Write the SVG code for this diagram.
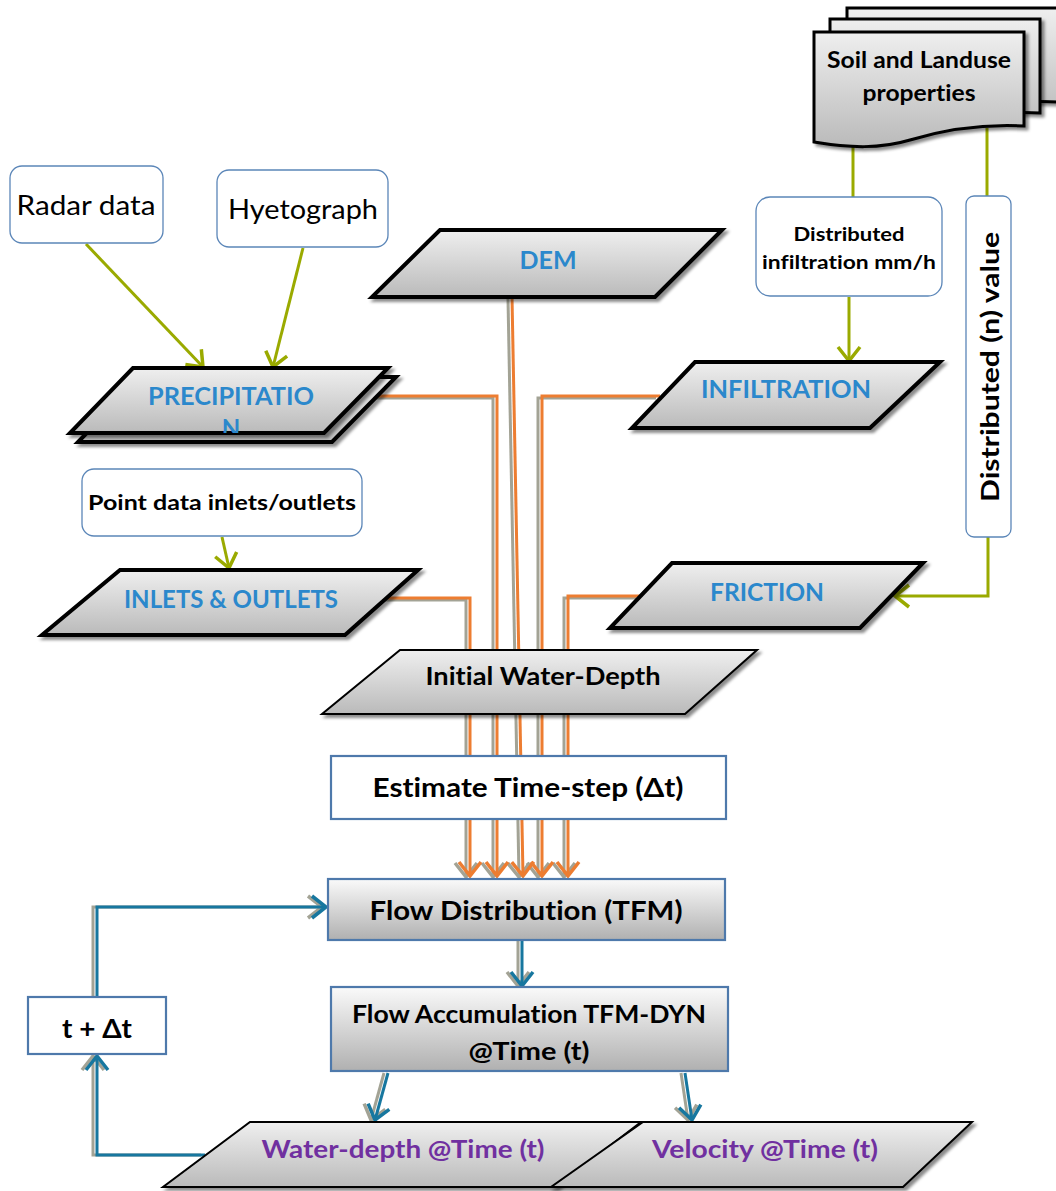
<svg xmlns="http://www.w3.org/2000/svg" width="1056" height="1191" viewBox="0 0 1056 1191">
<defs>
<linearGradient id="gp" x1="0" y1="0" x2="0" y2="1"><stop offset="0" stop-color="#efefef"/><stop offset="1" stop-color="#bababa"/></linearGradient>
<linearGradient id="gb" x1="0" y1="0" x2="0" y2="1"><stop offset="0" stop-color="#fafafa"/><stop offset="1" stop-color="#b0b0b0"/></linearGradient>
<filter id="sh" x="-10%" y="-10%" width="130%" height="150%"><feDropShadow dx="3" dy="3" stdDeviation="1.5" flood-color="#000" flood-opacity="0.45"/></filter>
<marker id="ao" markerUnits="userSpaceOnUse" viewBox="0 0 20 26" refX="17" refY="13" markerWidth="20" markerHeight="26" orient="auto" overflow="visible"><path d="M3,2 L17,13 L3,24" fill="none" stroke="#ED7D31" stroke-width="3.5"/></marker>
<marker id="ag" markerUnits="userSpaceOnUse" viewBox="0 0 20 26" refX="17" refY="13" markerWidth="20" markerHeight="26" orient="auto" overflow="visible"><path d="M3,2 L17,13 L3,24" fill="none" stroke="#a3a395" stroke-width="3.5"/></marker>
<marker id="ab" markerUnits="userSpaceOnUse" viewBox="0 0 20 26" refX="17" refY="13" markerWidth="20" markerHeight="26" orient="auto" overflow="visible"><path d="M3,2 L17,13 L3,24" fill="none" stroke="#17779f" stroke-width="3.5"/></marker>
<marker id="an" markerUnits="userSpaceOnUse" viewBox="0 0 20 26" refX="17" refY="13" markerWidth="20" markerHeight="26" orient="auto" overflow="visible"><path d="M3,2 L17,13 L3,24" fill="none" stroke="#9aaa00" stroke-width="3.5"/></marker>
<clipPath id="cp"><polygon points="133,368 388,368 324,433 70,433"/></clipPath>
</defs>
<style>
.t{font-family:Lato,'Liberation Sans',sans-serif;font-weight:bold;text-anchor:middle;fill:#000;font-variant-ligatures:none}
.n{font-weight:normal}
.bl{fill:#2b88cc}
.pu{fill:#7030a0}
.par{fill:url(#gp);stroke:#000;stroke-width:4;filter:url(#sh)}
.par2{fill:url(#gp);stroke:#000;stroke-width:2;filter:url(#sh)}
.rb{fill:#fff;stroke:#5b86b8;stroke-width:1.3}
.bx{stroke:#4e79ab;stroke-width:2.2}
.o{fill:none;stroke:#ED7D31;stroke-width:3}
.g{fill:none;stroke:#a3a395;stroke-width:3}
.b{fill:none;stroke:#17779f;stroke-width:3}
.gr{fill:none;stroke:#9aaa00;stroke-width:3}
</style>
<g id="connectors">
<g transform="translate(-4,2)">
<path class="g" d="M378,396 H497 V875" marker-end="url(#ag)"/>
<path class="g" d="M512,297 L523,875" marker-end="url(#ag)"/>
<path class="g" d="M660,396 H542 V875" marker-end="url(#ag)"/>
<path class="g" d="M388,598 H470 V875" marker-end="url(#ag)"/>
<path class="g" d="M640,596 H568 V875" marker-end="url(#ag)"/>
</g>
<path class="o" d="M378,396 H497 V876" marker-end="url(#ao)"/>
<path class="o" d="M512,297 L523,876" marker-end="url(#ao)"/>
<path class="o" d="M660,396 H542 V876" marker-end="url(#ao)"/>
<path class="o" d="M388,598 H470 V876" marker-end="url(#ao)"/>
<path class="o" d="M640,596 H568 V876" marker-end="url(#ao)"/>
<g transform="translate(-4,0)">
<path class="g" d="M522,941 V986" marker-end="url(#ag)"/>
<path class="g" d="M388,1073 L375,1120" marker-end="url(#ag)"/>
<path class="g" d="M685,1073 L692,1120" marker-end="url(#ag)"/>
<path class="g" d="M205,1155 H97 V1056" marker-end="url(#ag)"/>
<path class="g" d="M97,996 V907 H326" marker-end="url(#ag)"/>
</g>
<path class="b" d="M522,941 V986" marker-end="url(#ab)"/>
<path class="b" d="M388,1073 L375,1120" marker-end="url(#ab)"/>
<path class="b" d="M685,1073 L692,1120" marker-end="url(#ab)"/>
<path class="b" d="M205,1155 H97 V1056" marker-end="url(#ab)"/>
<path class="b" d="M97,996 V907 H326" marker-end="url(#ab)"/>
<path class="gr" d="M86,244 L203,367" marker-end="url(#an)"/>
<path class="gr" d="M303,248 L273,367" marker-end="url(#an)"/>
<path class="gr" d="M222,537 L229,568" marker-end="url(#an)"/>
<path class="gr" d="M853,143 V197"/>
<path class="gr" d="M849,297 V361" marker-end="url(#an)"/>
<path class="gr" d="M987,128 V196"/>
<path class="gr" d="M988,537 V596 H895" marker-end="url(#an)"/>
</g>
<g id="soil">
<path class="par" style="stroke-width:3" d="M847,8 H1058 V102 C1019,100 984,104 944,116 C914,125 884,124 847,118 Z"/>
<path class="par" style="stroke-width:3" d="M830,19 H1040 V113 C1001,111 966,115 926,127 C896,136 866,135 830,129 Z"/>
<path class="par" style="stroke-width:3" d="M814,32 H1024 V126 C985,124 950,128 910,140 C880,149 850,148 814,142 Z"/>
<text class="t" x="919" y="68" font-size="22" textLength="184" lengthAdjust="spacingAndGlyphs">Soil and Landuse</text>
<text class="t" x="919" y="101" font-size="22" textLength="113" lengthAdjust="spacingAndGlyphs">properties</text>
</g>
<g id="radar">
<rect class="rb" x="10" y="166" width="153" height="77" rx="12"/>
<text class="t n" x="86" y="215" font-size="27" textLength="139" lengthAdjust="spacingAndGlyphs">Radar data</text>
</g>
<g id="hyetograph">
<rect class="rb" x="217" y="170" width="171" height="77" rx="12"/>
<text class="t n" x="303" y="219" font-size="27" textLength="150" lengthAdjust="spacingAndGlyphs">Hyetograph</text>
</g>
<g id="precipitation">
<polygon class="par" points="141,377 396,377 332,442 78,442"/>
<polygon class="par" points="133,368 388,368 324,433 70,433"/>
<text class="t bl" x="231" y="405" font-size="24" textLength="166" lengthAdjust="spacingAndGlyphs">PRECIPITATIO</text>
<text class="t bl" x="231" y="437" font-size="24" clip-path="url(#cp)">N</text>
</g>
<g id="dem">
<polygon class="par" points="440,230 722,230 655,297 372,297"/>
<text class="t bl" x="548" y="269" font-size="24" textLength="57" lengthAdjust="spacingAndGlyphs">DEM</text>
</g>
<g id="dist-infiltration">
<rect class="rb" x="756" y="197" width="186" height="99" rx="14"/>
<text class="t" x="849" y="241" font-size="19" textLength="111" lengthAdjust="spacingAndGlyphs">Distributed</text>
<text class="t" x="849" y="269" font-size="19" textLength="174" lengthAdjust="spacingAndGlyphs">infiltration mm/h</text>
</g>
<g id="dist-n">
<rect class="rb" x="966" y="196" width="45" height="341" rx="8"/>
<text class="t" transform="translate(999,367) rotate(-90)" x="0" y="0" font-size="24" textLength="270" lengthAdjust="spacingAndGlyphs">Distributed (n) value</text>
</g>
<g id="infiltration">
<polygon class="par" points="695,362 940,362 870,428 632,428"/>
<text class="t bl" x="786" y="398" font-size="24" textLength="170" lengthAdjust="spacingAndGlyphs">INFILTRATION</text>
</g>
<g id="point-data">
<rect class="rb" x="82" y="469" width="280" height="67" rx="12"/>
<text class="t" x="222" y="510" font-size="21" textLength="268" lengthAdjust="spacingAndGlyphs">Point data inlets/outlets</text>
</g>
<g id="inlets">
<polygon class="par" points="120,570 418,570 345,635 42,635"/>
<text class="t bl" x="231" y="608" font-size="24" textLength="214" lengthAdjust="spacingAndGlyphs">INLETS &amp; OUTLETS</text>
</g>
<g id="friction">
<polygon class="par" points="672,563 923,563 860,628 610,628"/>
<text class="t bl" x="767" y="601" font-size="24" textLength="114" lengthAdjust="spacingAndGlyphs">FRICTION</text>
</g>
<g id="initial">
<polygon class="par2" points="400,650 757,650 685,714 322,714"/>
<text class="t" x="543" y="685" font-size="24" textLength="235" lengthAdjust="spacingAndGlyphs">Initial Water-Depth</text>
</g>
<g id="estimate">
<rect class="bx" fill="#fff" x="331" y="756" width="395" height="63"/>
<text class="t" x="528" y="797" font-size="26" textLength="311" lengthAdjust="spacingAndGlyphs">Estimate Time-step (Δt)</text>
</g>
<g id="flow-dist">
<rect class="bx" fill="url(#gb)" x="328" y="879" width="397" height="61"/>
<text class="t" x="526" y="920" font-size="26" textLength="313" lengthAdjust="spacingAndGlyphs">Flow Distribution (TFM)</text>
</g>
<g id="flow-acc">
<rect class="bx" fill="url(#gb)" x="331" y="987" width="397" height="84"/>
<text class="t" x="529" y="1023" font-size="24" textLength="354" lengthAdjust="spacingAndGlyphs">Flow Accumulation TFM-DYN</text>
<text class="t" x="529" y="1060" font-size="24" textLength="121" lengthAdjust="spacingAndGlyphs">@Time (t)</text>
</g>
<g id="tdt">
<rect class="bx" fill="#fff" x="28" y="997" width="138" height="57"/>
<text class="t" x="97" y="1038" font-size="26" textLength="70" lengthAdjust="spacingAndGlyphs">t + Δt</text>
</g>
<g id="water-depth">
<polygon class="par2" points="250,1122 641,1122 556,1187 163,1187"/>
<text class="t pu" x="403" y="1158" font-size="25" textLength="283" lengthAdjust="spacingAndGlyphs">Water-depth @Time (t)</text>
</g>
<g id="velocity">
<polygon class="par2" points="643,1122 972,1122 903,1187 551,1187"/>
<text class="t pu" x="765" y="1158" font-size="25" textLength="226" lengthAdjust="spacingAndGlyphs">Velocity @Time (t)</text>
</g>
</svg>
